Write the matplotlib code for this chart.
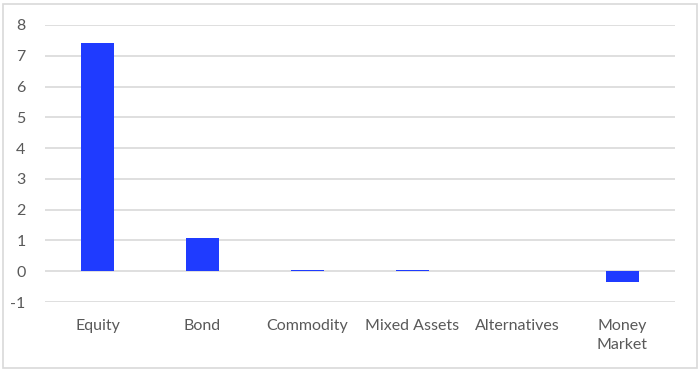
import matplotlib
matplotlib.use("Agg")
import matplotlib.pyplot as plt
from matplotlib.patches import Rectangle

categories = ["Equity", "Bond", "Commodity", "Mixed Assets", "Alternatives", "Money\nMarket"]
values = [7.42, 1.07, 0.05, 0.05, 0.0, -0.35]
yticks = [-1, 0, 1, 2, 3, 4, 5, 6, 7, 8]

plt.rcParams['font.family'] = ['Lato', 'DejaVu Sans']

fig = plt.figure(figsize=(7, 3.72), dpi=100)
ax = fig.add_axes([45 / 700, 70 / 372, 630 / 700, 277 / 372])

x_pos = list(range(len(categories)))
ax.bar(x_pos, values, width=0.31, color='#1f3bff', zorder=3)

ax.set_xlim(-0.5, len(categories) - 0.5)
ax.set_ylim(-1, 8)
ax.set_yticks(yticks)
ax.set_yticklabels([str(t) for t in yticks])
ax.set_xticks(x_pos)
ax.set_xticklabels(categories, linespacing=1.45)

ax.grid(axis='y', color='#d9d9d9', linewidth=1.2, zorder=0)
for s in ax.spines.values():
    s.set_visible(False)
ax.tick_params(length=0, colors='#595959', labelsize=11.5)
ax.tick_params(axis='y', pad=14)
ax.tick_params(axis='x', pad=12)

# outer chart border
fig.patches.append(Rectangle((3 / 700, 4 / 372), 694 / 700, 364 / 372,
                             transform=fig.transFigure, fill=False,
                             edgecolor='#d9d9d9', linewidth=1.2))

fig.savefig("out.png", dpi=100)
